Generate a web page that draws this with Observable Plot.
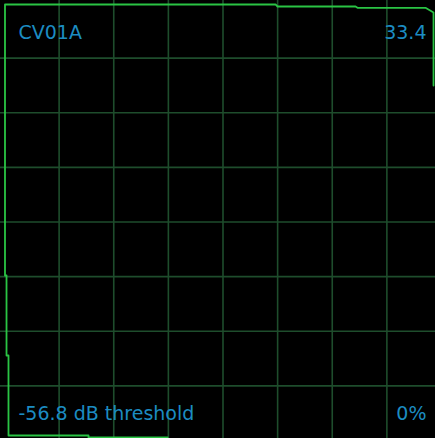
<!DOCTYPE html>
<html>
<head>
<meta charset="utf-8">
<script src="https://cdn.jsdelivr.net/npm/d3@7"></script>
<script src="https://cdn.jsdelivr.net/npm/@observablehq/plot@0.6"></script>
<style>
  html, body { margin: 0; padding: 0; background: #000; }
  #chart svg { display: block; }
</style>
</head>
<body>
<div id="chart"></div>
<script>
// Grid divisions (8 x 8)
const gridX = [1, 2, 3, 4, 5, 6, 7];
const gridY = [1, 2, 3, 4, 5, 6, 7];

// Trace (in grid units: u across, v down)
const traceU = [2.984, 1.538, 1.538, 0.073, 0.073, 0.037, 0.037, 0.009, 0.009, 4.961, 4.998, 6.426, 6.462, 7.707, 7.854, 7.854];
const traceV = [7.945, 7.945, 7.908, 7.908, 6.444, 6.444, 4.979, 4.979, 0.018, 0.018, 0.055, 0.055, 0.079, 0.079, 0.165, 1.501];

// Labels
const channelName = "CV01A";
const levelValue = "33.4";
const thresholdLabel = "-56.8 dB threshold";
const percentLabel = "0%";

const trace = traceU.map((u, i) => ({u, v: traceV[i]}));
const textColor = "#1c8cc2";
const font = "DejaVu Sans";

const chart = Plot.plot({
  width: 435,
  height: 438,
  margin: 0,
  style: {background: "#000", fontFamily: font},
  x: {domain: [0, 8], range: [4, 441], axis: null},
  y: {domain: [0, 8], range: [3, 440], axis: null},
  marks: [
    Plot.ruleX(gridX, {stroke: "#1e4d2c", strokeWidth: 1.6}),
    Plot.ruleY(gridY, {stroke: "#1e4d2c", strokeWidth: 1.6}),
    Plot.line(trace, {x: "u", y: "v", stroke: "#2ac444", strokeWidth: 1.8, curve: "linear"}),
    Plot.text([channelName], {frameAnchor: "top-left", dx: 18, dy: 25, fill: textColor, fontSize: 19, textAnchor: "start"}),
    Plot.text([levelValue], {frameAnchor: "top-right", dx: -9, dy: 25, fill: textColor, fontSize: 19, textAnchor: "end"}),
    Plot.text([thresholdLabel], {frameAnchor: "bottom-left", dx: 18, dy: -19, fill: textColor, fontSize: 19, textAnchor: "start"}),
    Plot.text([percentLabel], {frameAnchor: "bottom-right", dx: -9, dy: -19, fill: textColor, fontSize: 19, textAnchor: "end"})
  ]
});
document.getElementById("chart").append(chart);
</script>
</body>
</html>
